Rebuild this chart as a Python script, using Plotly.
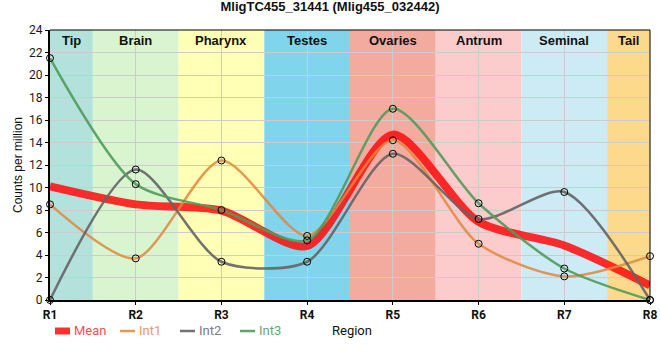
import plotly.graph_objects as go

regions = ["R1", "R2", "R3", "R4", "R5", "R6", "R7", "R8"]
xpos = [1, 2, 3, 4, 5, 6, 7, 8]
int1 = [8.5, 3.7, 12.4, 5.7, 14.2, 5.0, 2.1, 3.9]
int2 = [0.0, 11.6, 3.4, 3.4, 13.0, 7.2, 9.6, 0.0]
int3 = [21.5, 10.3, 8.0, 5.3, 17.0, 8.6, 2.8, 0.0]
mean = [10.1, 8.5, 7.95, 4.8, 14.7, 6.95, 4.85, 1.3]

band_names = ["Tip", "Brain", "Pharynx", "Testes", "Ovaries", "Antrum", "Seminal", "Tail"]
band_start = [1, 1.5, 2.5, 3.5, 4.5, 5.5, 6.5, 7.5]
band_end = [1.5, 2.5, 3.5, 4.5, 5.5, 6.5, 7.5, 8]
band_colors = ["#b3e2dc", "#d8f5cf", "#ffffb5", "#80d4ec", "#f4ab9f", "#fccbcb", "#cdebf5", "#fdd98b"]

W, H = 660, 360
L, R, T, B = 50, 10, 30, 60
PW, PH = W - L - R, H - T - B


def px(x):
    return (x - L) / PW


def py(y):
    return (H - B - y) / PH


fig = go.Figure()

shapes = []
annotations = []
for name, s, e, c in zip(band_names, band_start, band_end, band_colors):
    shapes.append(dict(type="rect", xref="x", yref="paper", x0=s, x1=e, y0=0, y1=1,
                       fillcolor=c, line_width=0, layer="below"))
    annotations.append(dict(x=(s + e) / 2, y=1, xref="x", yref="paper", yanchor="top",
                            yshift=-1, text="<b>" + name + "</b>", showarrow=False,
                            font=dict(family="Liberation Sans, Arial", size=13, color="#111")))

annotations.append(dict(x=px(330), y=py(331), xref="paper", yref="paper", yanchor="middle",
                        xanchor="left", text="Region", showarrow=False,
                        font=dict(family="Roboto, Arial", size=13, color="#111")))
annotations.append(dict(x=px(18), y=0.5, xref="paper", yref="paper", xanchor="center",
                        text="Counts per million", textangle=-90, showarrow=False,
                        font=dict(family="Liberation Sans, Arial", size=12, color="#111")))

SM = 0.75
trace_defs = [("Mean", mean, "rgba(255,10,10,0.85)", 8, "#ff4d4d"),
              ("Int1", int1, "rgba(225,135,60,0.85)", 2.5, "#e8995f"),
              ("Int2", int2, "rgba(100,100,100,0.9)", 2.5, "#7a7a90"),
              ("Int3", int3, "rgba(80,155,90,0.9)", 2.5, "#62a870")]
for nm, vals, col, w, tc in trace_defs:
    fig.add_trace(go.Scatter(x=xpos, y=vals, mode="lines", name=nm, showlegend=False, cliponaxis=False,
                             line=dict(color=col, width=w, shape="spline", smoothing=SM)))
for nm, vals, col, w, tc in trace_defs[1:]:
    fig.add_trace(go.Scatter(x=xpos, y=vals, mode="markers", showlegend=False, cliponaxis=False,
                             marker=dict(size=7, color="rgba(0,0,0,0)", line=dict(color="black", width=1))))

# custom legend
leg_x = [55, 120, 180, 240]
leg_sym_w = 15
for (nm, vals, col, w, tc), lx in zip(trace_defs, leg_x):
    shapes.append(dict(type="line", xref="paper", yref="paper", x0=px(lx), x1=px(lx + leg_sym_w),
                       y0=py(331), y1=py(331), line=dict(color=col, width=7 if w > 3 else 2.5)))
    annotations.append(dict(x=px(lx + leg_sym_w + 2), y=py(331), xref="paper", yref="paper",
                            xanchor="left", yanchor="middle", text=nm, showarrow=False,
                            font=dict(family="Roboto, Arial", size=13, color=tc)))

shapes.append(dict(type="line", xref="paper", yref="paper", x0=0, x1=1, y0=1, y1=1, line=dict(color="black", width=1)))
shapes.append(dict(type="line", xref="paper", yref="paper", x0=1, x1=1, y0=0, y1=1, line=dict(color="black", width=1)))

fig.update_layout(
    width=W, height=H,
    margin=dict(l=L, r=R, t=T, b=B, autoexpand=False),
    paper_bgcolor="white", plot_bgcolor="white",
    title=dict(text="<b>MligTC455_31441 (Mlig455_032442)</b>", x=0.5, xanchor="center",
               yref="container", y=1.0, yanchor="top", pad=dict(t=2),
               font=dict(family="Liberation Sans, Arial", size=13, color="#111")),
    shapes=shapes, annotations=annotations,
    showlegend=False,
    font=dict(family="Roboto, Arial", size=11, color="#111"),
)
fig.update_xaxes(range=[1, 8], tickvals=xpos, ticktext=["<b>%s</b>" % r for r in regions],
                 showgrid=True, gridcolor="#cccccc", gridwidth=1, zeroline=False,
                 showline=True, linecolor="black", linewidth=2, mirror=False, automargin=False,
                 tickfont=dict(size=12, family="Roboto, Arial"), ticks="outside", ticklen=3,
                 tickcolor="black", layer="above traces")
fig.update_yaxes(range=[0, 24], dtick=2, showgrid=True, gridcolor="#cccccc", gridwidth=1, zeroline=False,
                 showline=True, linecolor="black", linewidth=2, mirror=False, automargin=False,
                 tickfont=dict(size=12, color="#1a1a1a"), ticks="outside", ticklen=3, tickcolor="black")

fig.write_html("out.html", config={"displayModeBar": False},
               post_script="document.body.style.margin='0';")
